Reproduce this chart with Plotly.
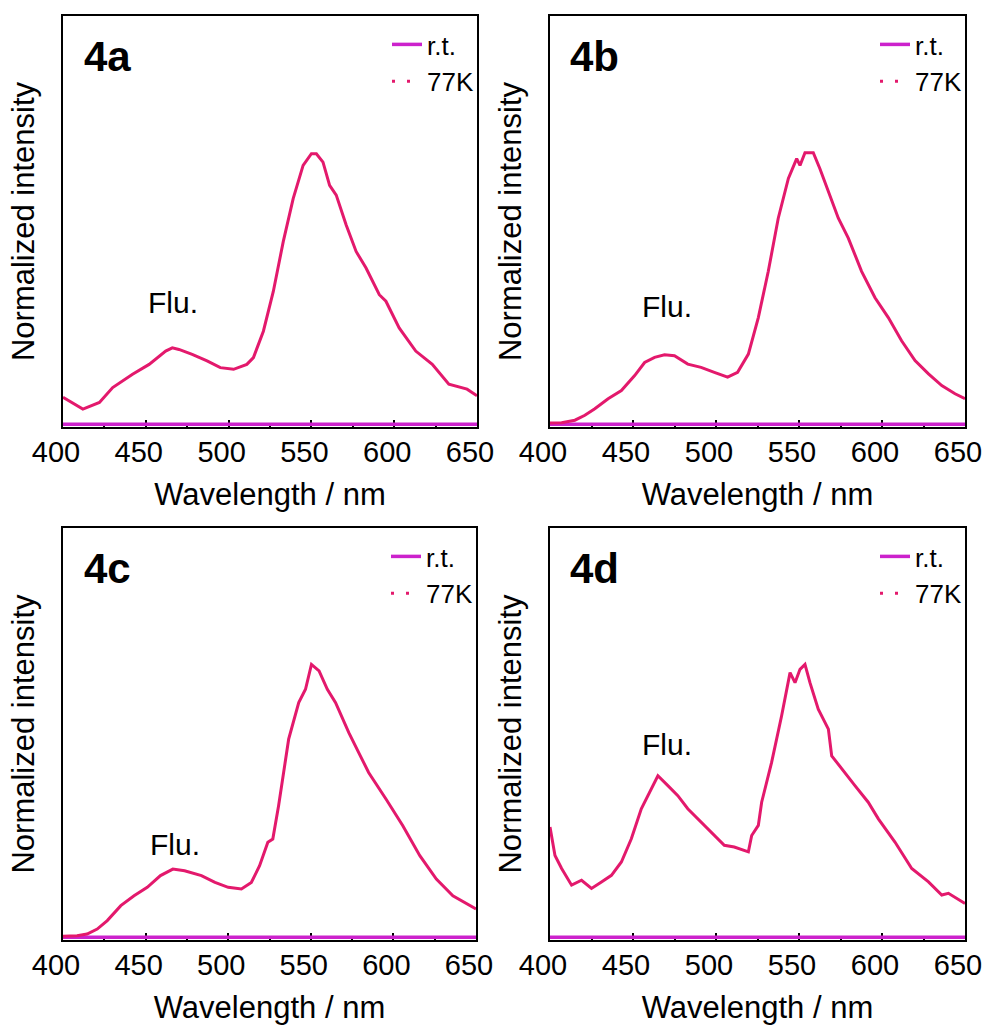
import plotly.graph_objects as go

# ---------------- data ----------------
panel_names = ["4a", "4b", "4c", "4d"]
legend_labels = ["r.t.", "77K"]
x_ticks = [400, 450, 500, 550, 600, 650]

# room temperature spectra (flat at baseline)
wl_rt = [400, 425, 450, 475, 500, 525, 550, 575, 600, 625, 650]
rt_a = [0, 0, 0, 0, 0, 0, 0, 0, 0, 0, 0]
rt_b = [0, 0, 0, 0, 0, 0, 0, 0, 0, 0, 0]
rt_c = [0, 0, 0, 0, 0, 0, 0, 0, 0, 0, 0]
rt_d = [0, 0, 0, 0, 0, 0, 0, 0, 0, 0, 0]

# 77K spectra
wl_a = [400, 412, 422, 430, 442, 452, 462, 466, 470, 478, 487, 495, 503, 511, 515,
        521, 527, 533, 539, 545, 550, 553, 557, 561, 565, 571, 577, 583, 591, 595,
        603, 613, 623, 633, 644, 650]
k77_a = [0.099, 0.056, 0.080, 0.135, 0.184, 0.220, 0.269, 0.281, 0.275, 0.257, 0.233,
         0.208, 0.202, 0.220, 0.245, 0.342, 0.488, 0.671, 0.829, 0.951, 0.994, 0.994,
         0.963, 0.878, 0.842, 0.732, 0.635, 0.574, 0.476, 0.452, 0.354, 0.269, 0.220,
         0.147, 0.129, 0.105]

wl_b = [400, 407, 415, 421, 427, 435, 443, 451, 457, 463, 469, 475, 483, 491, 499,
        507, 513, 519.5, 525.5, 531.5, 537.5, 543.6, 548.6, 550.6, 553.6, 558.6, 562.6,
        567.7, 573.7, 579.7, 587.7, 595.8, 603.8, 611.8, 619.9, 628, 636, 644, 650]
k77_b = [0.005, 0.006, 0.015, 0.033, 0.057, 0.094, 0.124, 0.179, 0.227, 0.246, 0.255,
         0.252, 0.221, 0.209, 0.191, 0.173, 0.191, 0.258, 0.392, 0.562, 0.757, 0.903,
         0.976, 0.951, 0.998, 0.998, 0.939, 0.854, 0.757, 0.684, 0.562, 0.465, 0.392,
         0.307, 0.234, 0.185, 0.142, 0.112, 0.094]

wl_c = [400, 408.5, 414.6, 420.7, 426.8, 435, 443, 451, 459, 466.5, 473.6, 483.8, 492,
        500, 508, 514, 519, 524, 527, 530.5, 536.6, 542.7, 546.8, 550.4, 555, 560, 565,
        573, 579, 585, 595.6, 605.7, 616, 626, 636, 646, 650]
k77_c = [0.004, 0.006, 0.012, 0.030, 0.061, 0.116, 0.152, 0.183, 0.226, 0.250, 0.244,
         0.226, 0.201, 0.183, 0.177, 0.201, 0.262, 0.348, 0.360, 0.482, 0.726, 0.860,
         0.909, 1.000, 0.976, 0.909, 0.860, 0.750, 0.677, 0.604, 0.506, 0.409, 0.299,
         0.213, 0.152, 0.116, 0.104]

wl_d = [400, 403, 407, 413, 419, 425, 431, 437, 443, 449, 455, 461, 465, 471, 477, 483,
        491, 499, 505, 511, 519.5, 521.5, 525.5, 527.5, 533.5, 539.5, 544.6, 547.6,
        550.6, 553.6, 556.6, 561.6, 567.7, 569.7, 575.7, 583.7, 591.7, 597.8, 607.8,
        617.9, 628, 636, 640, 650]
k77_d = [0.404, 0.300, 0.252, 0.191, 0.209, 0.179, 0.203, 0.227, 0.276, 0.361, 0.471,
         0.544, 0.592, 0.556, 0.519, 0.471, 0.422, 0.373, 0.337, 0.331, 0.313, 0.373,
         0.410, 0.495, 0.641, 0.811, 0.970, 0.933, 0.982, 1.000, 0.933, 0.836, 0.763,
         0.665, 0.617, 0.556, 0.495, 0.434, 0.349, 0.252, 0.203, 0.155, 0.161, 0.124]

# "Flu." label anchor (wavelength, intensity) per panel
flu_x = [466.4, 470.7, 467.5, 470.3]
flu_y = [0.446, 0.434, 0.341, 0.708]

# ---------------- style ----------------
RT_COLOR = "#CC22CC"
K77_COLOR = "#E3196C"
FONT = "Arial, Liberation Sans, sans-serif"

W, H = 992, 1026
x_domains = [[63 / W, 477 / W], [550 / W, 965 / W], [63 / W, 476 / W], [550 / W, 965 / W]]
y_domains = [[1 - 427 / H, 1 - 16 / H], [1 - 427 / H, 1 - 16 / H],
             [1 - 940 / H, 1 - 528 / H], [1 - 940 / H, 1 - 528 / H]]

rt_series = [rt_a, rt_b, rt_c, rt_d]
wl_series = [wl_a, wl_b, wl_c, wl_d]
k77_series = [k77_a, k77_b, k77_c, k77_d]

fig = go.Figure()
annotations = []
layout = dict(
    width=W, height=H,
    margin=dict(l=0, r=0, t=0, b=0, autoexpand=False),
    paper_bgcolor="white", plot_bgcolor="white",
    font=dict(family=FONT, color="black"),
    showlegend=True,
)

for i in range(4):
    n = "" if i == 0 else str(i + 1)
    xa, ya = "x" + n, "y" + n
    leg = "legend" + n

    fig.add_trace(go.Scatter(
        x=wl_rt, y=rt_series[i], mode="lines", name=legend_labels[0],
        line=dict(color=RT_COLOR, width=3.5), xaxis=xa, yaxis=ya,
        legend=leg, legendgroup="rt" + n, showlegend=True))
    fig.add_trace(go.Scatter(
        x=wl_series[i], y=k77_series[i], mode="lines", name=legend_labels[1],
        line=dict(color=K77_COLOR, width=3), xaxis=xa, yaxis=ya,
        legend=leg, showlegend=False))
    # legend entry for 77K is drawn dotted, as in the original figure
    fig.add_trace(go.Scatter(
        x=[None], y=[None], mode="lines", name=legend_labels[1],
        line=dict(color=K77_COLOR, width=3, dash="3px,12px"), xaxis=xa, yaxis=ya,
        legend=leg, legendgroup="k77" + n, showlegend=True))

    layout["xaxis" + n] = dict(
        domain=x_domains[i], anchor=ya, range=[400, 650], automargin=True,
        tickvals=x_ticks, ticks="inside", ticklen=7, tickwidth=2, tickcolor="black",
        minor=dict(ticks="inside", ticklen=4, tickwidth=2, tickcolor="black", dtick=25),
        showline=True, linecolor="black", linewidth=2, mirror=True,
        showgrid=False, zeroline=False, layer="below traces",
        tickfont=dict(size=29, family=FONT, color="black"),
        ticklabelstandoff=-2, ticklabelshift=-7,
        title=dict(text="Wavelength / nm", font=dict(size=31, family=FONT, color="black"),
                   standoff=17),
    )
    layout["yaxis" + n] = dict(
        domain=y_domains[i], anchor=xa, range=[-0.01, 1.5], automargin=True,
        showticklabels=False, ticks="",
        showline=True, linecolor="black", linewidth=2, mirror=True,
        showgrid=False, zeroline=False, layer="below traces",
        title=dict(text="Normalized intensity", font=dict(size=31, family=FONT, color="black"),
                   standoff=17),
    )
    layout[leg] = dict(
        x=x_domains[i][1] + 2 / W, y=y_domains[i][1] - 5 / H,
        xanchor="right", yanchor="top", xref="paper", yref="paper",
        bgcolor="rgba(0,0,0,0)", borderwidth=0,
        font=dict(size=26, family=FONT, color="black"),
        tracegroupgap=8, traceorder="normal", itemwidth=30,
    )
    annotations.append(dict(
        x=427, y=1.35, xref=xa, yref=ya, text="<b>" + panel_names[i] + "</b>",
        showarrow=False, font=dict(size=42, family=FONT, color="black"),
        xanchor="center", yanchor="middle"))
    annotations.append(dict(
        x=flu_x[i], y=flu_y[i], xref=xa, yref=ya, text="Flu.",
        showarrow=False, font=dict(size=30, family=FONT, color="black"),
        xanchor="center", yanchor="middle"))

layout["annotations"] = annotations
fig.update_layout(**layout)
fig.write_html("out.html")
